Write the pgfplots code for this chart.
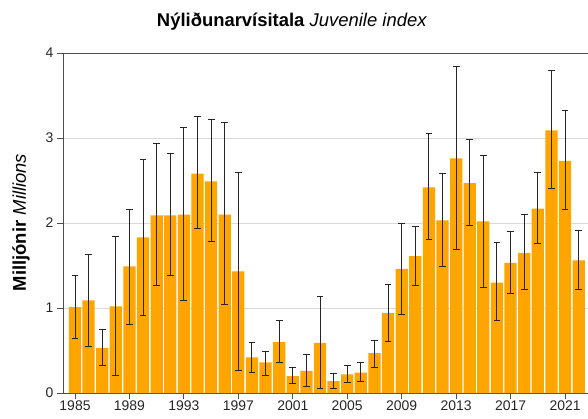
\documentclass[border=0pt]{standalone}
\usepackage{pgfplots}
\pgfplotsset{compat=1.18}
\usepackage{pgfplotstable}
\usepackage{fontspec}
\setmainfont{Liberation Sans}
\definecolor{barorange}{HTML}{FFA500}
\definecolor{gridgray}{HTML}{D9D9D9}
\definecolor{axisgray}{HTML}{4D4D4D}

\pgfplotstableread{
year val lo hi
1985 1.01 0.64 1.38
1986 1.09 0.55 1.63
1987 0.53 0.32 0.75
1988 1.02 0.21 1.84
1989 1.49 0.81 2.16
1990 1.83 0.91 2.75
1991 2.09 1.27 2.93
1992 2.09 1.38 2.82
1993 2.10 1.09 3.12
1994 2.58 1.93 3.25
1995 2.49 1.78 3.22
1996 2.10 1.04 3.18
1997 1.43 0.27 2.60
1998 0.42 0.24 0.60
1999 0.36 0.21 0.49
2000 0.60 0.36 0.85
2001 0.20 0.11 0.30
2002 0.26 0.08 0.45
2003 0.59 0.05 1.13
2004 0.14 0.05 0.23
2005 0.22 0.12 0.32
2006 0.24 0.13 0.36
2007 0.47 0.30 0.62
2008 0.94 0.61 1.28
2009 1.46 0.92 2.00
2010 1.61 1.26 1.96
2011 2.42 1.81 3.05
2012 2.03 1.49 2.58
2013 2.76 1.69 3.84
2014 2.47 1.97 2.98
2015 2.02 1.24 2.80
2016 1.30 0.85 1.77
2017 1.53 1.17 1.90
2018 1.65 1.22 2.10
2019 2.17 1.76 2.59
2020 3.09 2.41 3.79
2021 2.73 2.16 3.32
2022 1.56 1.22 1.91
}\data

\begin{document}
\begin{tikzpicture}[x=1bp,y=1bp]
\useasboundingbox (0,0) rectangle (588,418);
\begin{axis}[
  at={(63bp,25bp)}, anchor=south west,
  scale only axis, width=525bp, height=340bp,
  xmin=1984.118, xmax=2022.69,
  ymin=0, ymax=4,
  axis x line*=bottom, axis y line*=left,
  axis line style={axisgray, line width=0.9pt},
  every tick/.style={axisgray, line width=0.9pt},
  tick align=outside,
  major tick length=6bp,
  xtick={1985,1989,...,2021},
  ytick={0,1,2,3,4},
  x tick label style={/pgf/number format/1000 sep={}},
  /pgf/number format/assume math mode=true,
  tick label style={font=\fontsize{14}{16}\selectfont, text=black!85},
  xticklabel style={yshift=2bp},
  ymajorgrids, grid style={gridgray, line width=1pt},
  clip=true,
]
\addplot[ybar, bar width=0.9, fill=barorange, draw=none,
  error bars/.cd, y dir=both, y explicit,
  error bar style={black!85, line width=1pt},
  error mark options={black!85, line width=1pt, mark size=3.4bp, rotate=90}]
  table[x=year, y=val,
    y error plus expr=\thisrow{hi}-\thisrow{val},
    y error minus expr=\thisrow{val}-\thisrow{lo}] {\data};
\draw[axisgray, line width=0.9pt] (rel axis cs:0,1) -- (rel axis cs:1,1);
\end{axis}
\node[font=\fontsize{18.5}{22}\selectfont] at (292bp,396bp) {\textbf{Nýliðunarvísitala} \textit{Juvenile index}};
\node[rotate=90, font=\fontsize{18.5}{22}\selectfont] at (21bp,195.5bp) {\textbf{Milljónir} \textit{Millions}};
\end{tikzpicture}
\end{document}
